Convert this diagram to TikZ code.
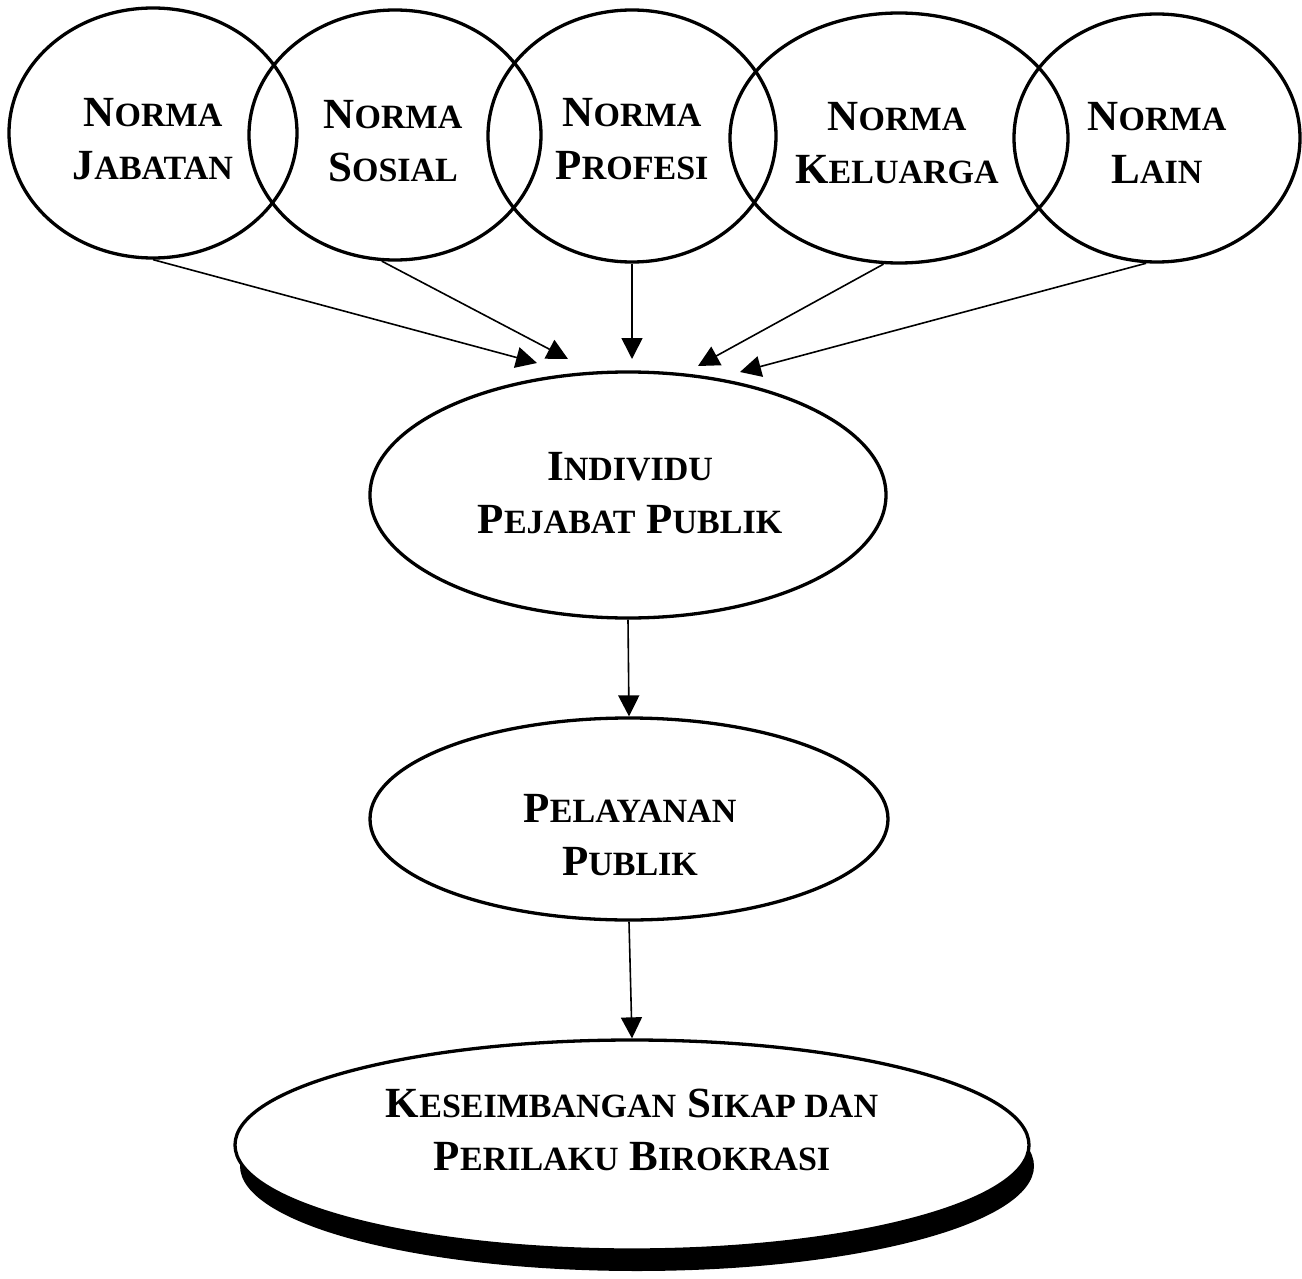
\documentclass[tikz,border=0pt]{standalone}
\usepackage{fontspec}
\setmainfont{Liberation Serif}
\usetikzlibrary{shapes.geometric,arrows.meta}
\newcommand\mysc[2]{#1{\fontsize{34}{53}\selectfont #2}}
\begin{document}
\begin{tikzpicture}[x=1pt,y=1pt,
  oval/.style={draw=black,line width=3.3pt,ellipse,inner sep=0pt},
  lbl/.style={font=\fontsize{43}{53}\selectfont\bfseries,align=center,inner sep=0pt},
  conn/.style={line width=1.6pt,-{Triangle[length=21pt,width=21pt]}}]
\useasboundingbox (0,0) rectangle (1302,-1279);
% top ellipses
\node[oval,minimum width=288pt,minimum height=250pt] (jab) at (153,-133) {};
\node[oval,minimum width=292pt,minimum height=250pt] (sos) at (395,-135) {};
\node[oval,minimum width=288pt,minimum height=252pt] (pro) at (632,-136) {};
\node[oval,minimum width=338pt,minimum height=250pt] (kel) at (899,-138) {};
\node[oval,minimum width=286pt,minimum height=248pt] (lai) at (1157,-138) {};
\node[lbl] (tjab) at (153,-139) {\mysc{N}{ORMA}\\\mysc{J}{ABATAN}};
\node[lbl] (tsos) at (393,-141) {\mysc{N}{ORMA}\\\mysc{S}{OSIAL}};
\node[lbl] (tpro) at (632,-139) {\mysc{N}{ORMA}\\\mysc{P}{ROFESI}};
\node[lbl] (tkel) at (897,-143) {\mysc{N}{ORMA}\\\mysc{K}{ELUARGA}};
\node[lbl] (tlai) at (1157,-143) {\mysc{N}{ORMA}\\\mysc{L}{AIN}};
% middle
\node[oval,minimum width=516pt,minimum height=246pt] (ind) at (628,-495) {};
\node[lbl] (tind) at (630,-493) {\mysc{I}{NDIVIDU}\\\mysc{P}{EJABAT} \mysc{P}{UBLIK}};
\node[oval,minimum width=518pt,minimum height=202pt] (pel) at (629,-819) {};
\node[lbl] (tpel) at (630,-835) {\mysc{P}{ELAYANAN}\\\mysc{P}{UBLIK}};
% bottom with shadow
\fill[black] (637,-1166) ellipse [x radius=397, y radius=105];
\node[oval,fill=white,minimum width=794pt,minimum height=210pt] (kes) at (632,-1145) {};
\node[lbl] (tkes) at (632,-1130) {\mysc{K}{ESEIMBANGAN} \mysc{S}{IKAP DAN}\\\mysc{P}{ERILAKU} \mysc{B}{IROKRASI}};
% arrow tips
\coordinate (e1) at (537,-363);
\coordinate (e2) at (568,-359);
\coordinate (e3) at (632,-359);
\coordinate (e4) at (698,-366);
\coordinate (e5) at (740,-372);
\draw[conn] (jab.south) -- (e1);
\draw[conn] (sos.264) -- (e2);
\draw[conn] (pro.south) -- (e3);
\draw[conn] (kel.263) -- (e4);
\draw[conn] (lai.265) -- (e5);
\draw[conn] (ind.south) -- (pel.north);
\draw[conn] (pel.south) -- (kes.north);
\end{tikzpicture}
\end{document}
